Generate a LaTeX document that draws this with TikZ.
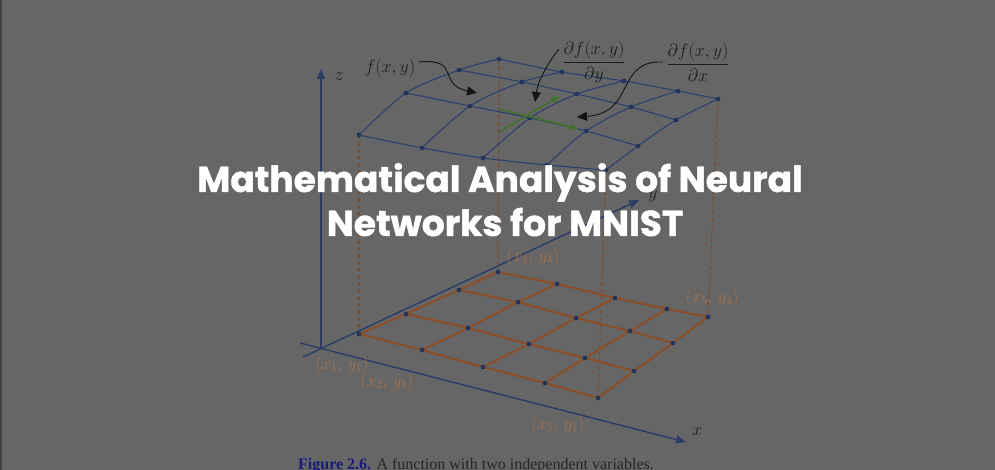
\RequirePackage{fix-cm}
\documentclass[tikz,border=0pt]{standalone}
\usepackage{amsmath}
\usepackage{fontspec}
\newfontfamily\titlefont{Poppins}[BoldFont={Poppins Bold}, BoldFeatures={FakeBold=1.2}]
\newfontfamily\capfont{Liberation Serif}
\usetikzlibrary{arrows.meta}

\definecolor{bgray}{HTML}{666666}
\definecolor{axisblue}{HTML}{293D66}
\definecolor{meshblue}{HTML}{2D416E}
\definecolor{dotblue}{HTML}{22365C}
\definecolor{gridorange}{HTML}{8C4E26}
\definecolor{dropbrown}{HTML}{7E4A28}
\definecolor{ptbrown}{HTML}{AC7248}
\definecolor{slopegreen}{HTML}{44702E}
\definecolor{notegray}{HTML}{151515}
\definecolor{labelgray}{HTML}{1E1E1E}
\definecolor{capblue}{HTML}{1A1A7A}
\definecolor{captext}{HTML}{262626}

\begin{document}
\begin{tikzpicture}[x=1pt, y=-1pt,
  axis/.style={draw=axisblue, line width=1.4pt, -{Triangle[length=10pt,width=8pt]}},
  floorline/.style={draw=gridorange, line width=2pt},
  meshline/.style={draw=meshblue, line width=1.1pt},
  drop/.style={draw=dropbrown, line width=1.1pt, dash pattern=on 4pt off 3pt},
  dot/.style={fill=dotblue},
  slope/.style={draw=slopegreen, line width=1.6pt, -{Triangle[length=9pt,width=7pt]}},
  note/.style={draw=notegray, line width=0.9pt, -{Triangle[length=10pt,width=9pt]}},
  lbl/.style={text=labelgray, font=\fontsize{18}{21}\selectfont},
  ptlbl/.style={text=ptbrown, font=\fontsize{17}{20}\selectfont},
  title/.style={text=white, font=\titlefont\bfseries\fontsize{36}{42}\selectfont, anchor=base}
]
  \useasboundingbox (0,0) rectangle (995,470);
  \clip (0,0) rectangle (995,470);
  \fill[bgray] (0,0) rectangle (995,470);
  \fill[black!75] (0,0) rectangle (1.5,470);

  % floor grid points (x_i, y_j)
  \coordinate (f11) at (359,334); \coordinate (f21) at (422,350); \coordinate (f31) at (483,367); \coordinate (f41) at (545,383); \coordinate (f51) at (598,398);
  \coordinate (f12) at (406,314); \coordinate (f22) at (468,328); \coordinate (f32) at (529,344); \coordinate (f42) at (585,358); \coordinate (f52) at (634,371);
  \coordinate (f13) at (459,290); \coordinate (f23) at (518,302); \coordinate (f33) at (576,318); \coordinate (f43) at (630,331); \coordinate (f53) at (673,343);
  \coordinate (f14) at (498,272); \coordinate (f24) at (557,284); \coordinate (f34) at (615,298); \coordinate (f44) at (667,309); \coordinate (f54) at (708,317);

  % surface points f(x_i, y_j)
  \coordinate (s11) at (359,135); \coordinate (s21) at (422,148); \coordinate (s31) at (483,158); \coordinate (s41) at (547,165); \coordinate (s51) at (606,170);
  \coordinate (s12) at (406,93);  \coordinate (s22) at (470,106); \coordinate (s32) at (530,118); \coordinate (s42) at (586,131); \coordinate (s52) at (638,146);
  \coordinate (s13) at (459,70);  \coordinate (s23) at (522,82);  \coordinate (s33) at (577,94);  \coordinate (s43) at (631,107); \coordinate (s53) at (676,120);
  \coordinate (s14) at (499,59);  \coordinate (s24) at (562,72);  \coordinate (s34) at (624,81);  \coordinate (s44) at (678,91);  \coordinate (s54) at (718,99);

  % drop lines
  \draw[drop] (s11) -- (f11);
  \draw[drop] (s14) -- (f14);
  \draw[drop] (s51) -- (f51);
  \draw[drop] (s54) -- (f54);

  % axes
  \coordinate (O) at (321,348);
  \coordinate (ztip) at (321,69);
  \coordinate (xstart) at (300,343);
  \coordinate (xtip) at (686,442);
  \coordinate (ystart) at (303,357);
  \coordinate (ytip) at (639,200);
  \draw[axis] (O) -- (ztip);
  \draw[axis] (xstart) -- (xtip);
  \draw[axis] (ystart) -- (ytip);
  \node[lbl] (zlab) at (339,77) {$z$};
  \node[lbl] (ylab) at (653,196) {$y$};
  \node[lbl] (xlab) at (697,432) {$x$};

  % floor grid
  \draw[floorline] (f11) -- (f21) -- (f31) -- (f41) -- (f51);
  \draw[floorline] (f12) -- (f22) -- (f32) -- (f42) -- (f52);
  \draw[floorline] (f13) -- (f23) -- (f33) -- (f43) -- (f53);
  \draw[floorline] (f14) -- (f24) -- (f34) -- (f44) -- (f54);
  \draw[floorline] (f11) -- (f12) -- (f13) -- (f14);
  \draw[floorline] (f21) -- (f22) -- (f23) -- (f24);
  \draw[floorline] (f31) -- (f32) -- (f33) -- (f34);
  \draw[floorline] (f41) -- (f42) -- (f43) -- (f44);
  \draw[floorline] (f51) -- (f52) -- (f53) -- (f54);

  % surface mesh
  \draw[meshline] plot[smooth] coordinates {(s11) (s21) (s31) (s41) (s51)};
  \draw[meshline] plot[smooth] coordinates {(s12) (s22) (s32) (s42) (s52)};
  \draw[meshline] plot[smooth] coordinates {(s13) (s23) (s33) (s43) (s53)};
  \draw[meshline] plot[smooth] coordinates {(s14) (s24) (s34) (s44) (s54)};
  \draw[meshline] plot[smooth] coordinates {(s11) (s12) (s13) (s14)};
  \draw[meshline] plot[smooth] coordinates {(s21) (s22) (s23) (s24)};
  \draw[meshline] plot[smooth] coordinates {(s31) (s32) (s33) (s34)};
  \draw[meshline] plot[smooth] coordinates {(s41) (s42) (s43) (s44)};
  \draw[meshline] plot[smooth] coordinates {(s51) (s52) (s53) (s54)};

  \foreach \i in {1,...,5} {
    \foreach \j in {1,...,4} {
      \fill[dot] (f\i\j) circle (2.4);
      \fill[dot] (s\i\j) circle (2.4);
    }
  }

  % partial derivatives
  \coordinate (gxs) at (499,109); \coordinate (gxe) at (579,129);
  \coordinate (gys) at (499,132); \coordinate (gye) at (560,96);
  \draw[slope] (gxs) -- (gxe);
  \draw[slope] (gys) -- (gye);

  \node[lbl] (flab) at (390,68) {$f(x,y)$};
  \node[lbl] (dfy) at (594,62) {$\dfrac{\partial f(x,y)}{\partial y}$};
  \node[lbl] (dfx) at (698,62) {$\dfrac{\partial f(x,y)}{\partial x}$};
  \coordinate (tipf) at (477,93);
  \coordinate (tipy) at (535,102);
  \coordinate (tipx) at (577,117);
  \draw[note] ([yshift=6pt]flab.east) .. controls (462,58) and (436,84) .. (tipf);
  \draw[note] ([yshift=13pt]dfy.west) .. controls (550,60) and (538,80) .. (tipy);
  \draw[note] (dfx.west) .. controls (615,60) and (636,113) .. (tipx);

  % grid point labels
  \node[ptlbl] (p14) at (533,257) {$(x_1,\,y_4)$};
  \node[ptlbl] (p54) at (712,298) {$(x_5,\,y_4)$};
  \node[ptlbl] (p11) at (342,365) {$(x_1,\,y_1)$};
  \node[ptlbl] (p21) at (387,382) {$(x_2,\,y_1)$};
  \node[ptlbl] (p51) at (558,425) {$(x_5,\,y_1)$};

  % caption
  \node[anchor=base west, inner sep=0, text=captext, font=\capfont\fontsize{16}{19}\selectfont] (cap) at (298,469)
    {\textbf{\textcolor{capblue}{Figure 2.6.}} A function with two independent variables.};

  % title
  \node[title] (title1) at (500,192) {Mathematical Analysis of Neural};
  \node[title] (title2) at (505,236) {Networks for MNIST};
\end{tikzpicture}
\end{document}
